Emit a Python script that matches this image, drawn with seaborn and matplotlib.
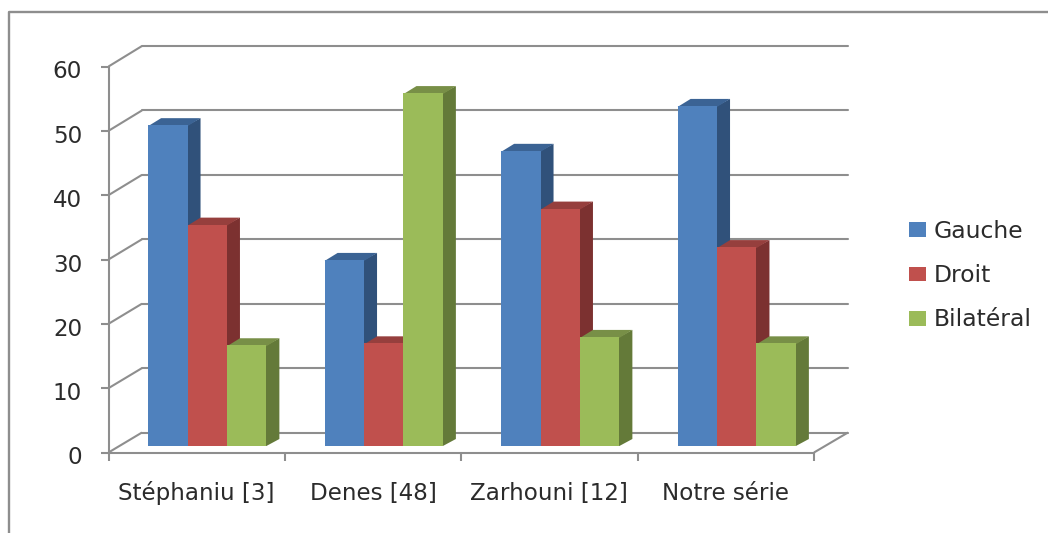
"""
plot.py
Grouped bars with a fake 3D look (Gauche / Droit / Bilateral per study)
"""

import pandas as pd
import matplotlib
matplotlib.use("Agg")
import matplotlib.pyplot as plt
from matplotlib.lines import Line2D
from matplotlib.patches import Polygon
from matplotlib.transforms import IdentityTransform, ScaledTranslation
import seaborn as sns

studies = ["Stéphaniu [3]", "Denes [48]", "Zarhouni [12]", "Notre série"]
gauche = [50, 29, 46, 53]
droit = [34.5, 16, 37, 31]
bilateral = [15.7, 55, 17, 16]
series_names = ["Gauche", "Droit", "Bilatéral"]
y_ticks = [0, 10, 20, 30, 40, 50, 60]

W, H = 1048, 533
GREY = "#8e8e8e"
TEXT = "#2b2b2b"
FRONT = ["#4f81bd", "#c0504d", "#9bbb59"]
SIDE = ["#30517a", "#7c3130", "#647a39"]
TOP = ["#3b6394", "#963f3d", "#788f47"]
DEPTH = (13, 7)  # px depth of one bar
FONT = 16.6


def px_axes(left, right, top, bottom, zorder):
    # axes placed by pixel box, y counted from the top of the image
    ax = fig.add_axes([left / W, 1 - bottom / H, (right - left) / W, (bottom - top) / H])
    ax.set_zorder(zorder)
    ax.patch.set_visible(False)
    return ax


def line(x0, y0, x1, y1):
    fig.add_artist(Line2D([x0 / W, x1 / W], [1 - y0 / H, 1 - y1 / H], color=GREY, lw=1.5,
                          transform=fig.transFigure, solid_capstyle="butt"))


sns.set_style("white")
plt.rcParams["font.family"] = ["DejaVu Sans"]

df = pd.DataFrame({"study": studies, series_names[0]: gauche, series_names[1]: droit, series_names[2]: bilateral})
long_df = df.melt(id_vars="study", var_name="side", value_name="value")

fig = plt.figure(figsize=(W / 100, H / 100), dpi=100)

# back wall with the grid
back = px_axes(142, 848, 46, 432.5, 1)
back.set_xlim(0, 1)
back.set_ylim(0, 60)
back.set_yticks(y_ticks)
back.set_xticks([])
back.tick_params(left=False, labelleft=False)
back.grid(axis="y", color=GREY, lw=1.5)
for gl in back.get_ygridlines():
    gl.set_clip_on(False)
sns.despine(ax=back, left=True, bottom=True)

# front plane: the real axes and their labels
front = px_axes(108.5, 814, 66.5, 452.5, 2)
front.set_xlim(-0.5, 3.5)
front.set_ylim(0, 60)
front.set_yticks(y_ticks)
front.set_xticks([-0.5, 0.5, 1.5, 2.5, 3.5])
front.set_xticklabels([])
front.set_xticks(range(len(studies)), labels=studies, minor=True)
front.tick_params(axis="x", which="major", length=6, width=1.5, color=GREY, bottom=True)
front.tick_params(axis="x", which="minor", length=0, pad=34, labelsize=FONT, labelcolor=TEXT, bottom=True)
front.tick_params(axis="y", length=6, width=1.5, color=GREY, pad=13, labelsize=FONT, labelcolor=TEXT, left=True)
for label in front.get_xticklabels(minor=True):
    label.set_verticalalignment("baseline")
# numbers sit a little under their ticks in the original
nudge = ScaledTranslation(0, -3 / 100, fig.dpi_scale_trans)
for label in front.get_yticklabels():
    label.set_transform(label.get_transform() + nudge)
sns.despine(ax=front)
for s in ["left", "bottom"]:
    front.spines[s].set_color(GREY)
    front.spines[s].set_linewidth(1.5)

# wall/floor joins
for tick in y_ticks:
    y_f = 452.5 - (452.5 - 66.5) * tick / 60
    y_b = 432.5 - (432.5 - 46) * tick / 60
    line(108.5, y_f, 142, y_b)
line(814, 452.5, 848, 432.5)

# bars
bars = px_axes(119, 825, 61, 446, 3)
sns.barplot(data=long_df, x="study", y="value", hue="side", hue_order=series_names, palette=FRONT,
            saturation=1, width=0.67, gap=0, linewidth=0, ax=bars)
bars.set_xlim(-0.5, 3.5)
bars.set_ylim(0, 60)
bars.axis("off")

# depth faces, built from the bars seaborn drew
dx, dy = DEPTH
for i, container in enumerate(bars.containers):
    for rect in container:
        rect.set_zorder(5)
for group in range(len(studies)):
    for i, container in enumerate(bars.containers):
        rect = container[group]
        (x0, y0), (x1, y1) = bars.transData.transform(
            [(rect.get_x(), 0), (rect.get_x() + rect.get_width(), rect.get_height())])
        # side and top start 1px under the front face so no grid shows through the seam
        side = [(x1 - 1, y0), (x1, y0), (x1 + dx, y0 + dy), (x1 + dx, y1 + dy), (x1, y1), (x1 - 1, y1)]
        top = [(x0, y1 - 1), (x1, y1 - 1), (x1 + dx, y1 + dy), (x0 + dx, y1 + dy)]
        bars.add_patch(Polygon(side, closed=True, fc=SIDE[i], lw=0, transform=IdentityTransform(), clip_on=False, zorder=3))
        bars.add_patch(Polygon(top, closed=True, fc=TOP[i], lw=0, transform=IdentityTransform(), clip_on=False, zorder=4))

# legend
handles, labels = bars.get_legend_handles_labels()
bars.legend_.remove()
fig.legend(handles, labels, loc="upper left", bbox_to_anchor=(909 / W, 1 - 220 / H), frameon=False,
           fontsize=16.9, labelcolor=TEXT, handlelength=0.72, handleheight=0.6, handletextpad=0.32,
           labelspacing=0.905, borderpad=0, borderaxespad=0)

# outer frame, only top and left show
fig.add_artist(Line2D([9 / W, 9 / W, 1], [0, 1 - 12 / H, 1 - 12 / H], color=GREY, lw=1.7,
                      transform=fig.transFigure))

fig.savefig("out.png", dpi=100)
plt.close(fig)
